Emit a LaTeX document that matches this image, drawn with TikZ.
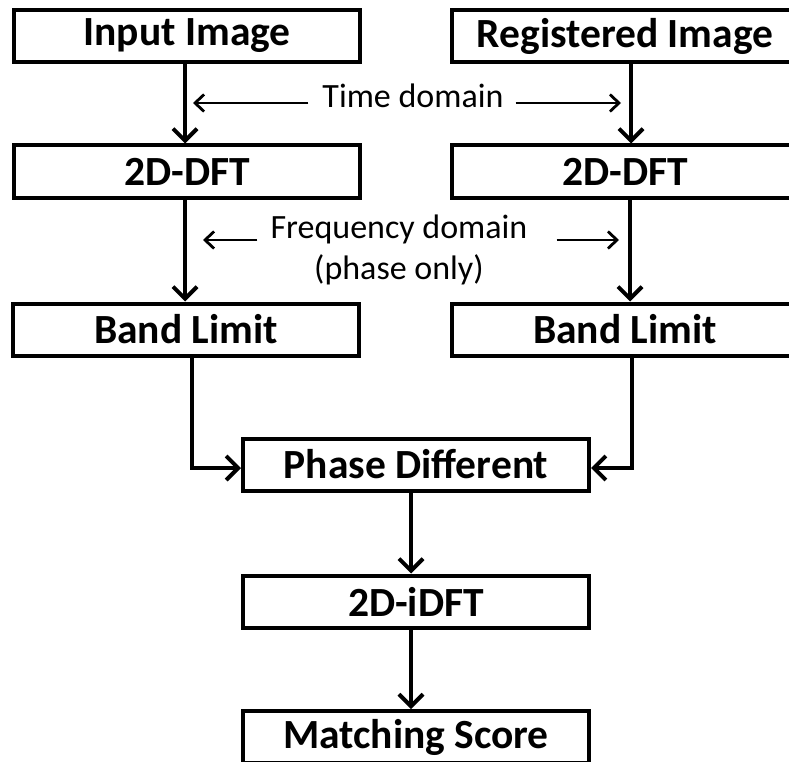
\documentclass[tikz,border=0pt]{standalone}
\usepackage{fontspec}
\setmainfont{Carlito}
\usetikzlibrary{arrows.meta,calc}

\tikzset{
  stage/.style={draw, line width=4pt, rectangle, inner sep=0pt,
    minimum width=346pt, minimum height=52pt,
    font=\fontsize{41.5}{45}\selectfont\bfseries},
  flow/.style={line width=4pt, -{Straight Barb[length=12pt,width=24pt,line width=4pt]}},
  hint/.style={line width=2.8pt, -{Straight Barb[length=9pt,width=17pt,line width=2.8pt]}},
  note/.style={inner sep=0pt, anchor=base, font=\fontsize{34}{37}\selectfont}
}

\begin{document}
\begin{tikzpicture}[x=1pt,y=-1pt]
  \useasboundingbox (0,0) rectangle (789,762);
  \clip (0,0) rectangle (789,762);

  % processing stages
  \node[stage] (inp)   at (187,36)    {Input Image};
  \node[stage] (reg)   at (625,36)    {Registered Image};
  \node[stage] (ldft)  at (187,171.5) {2D-DFT};
  \node[stage] (rdft)  at (625,171.5) {2D-DFT};
  \node[stage] (lband) at (186,329.5) {Band Limit};
  \node[stage] (rband) at (625,329.5) {Band Limit};
  \node[stage] (phase) at (416,464.5) {Phase Different};
  \node[stage] (idft)  at (416,601.5) {2D-iDFT};
  \node[stage] (score) at (416,737)   {Matching Score};

  % domain annotations
  \node[note] (td)   at (413,108) {Time domain};
  \node[note] (fd)   at (399,238) {Frequency domain};
  \node[note] (po)   at (399,279) {(phase only)};

  % main flow
  \draw[flow] ([xshift=-2pt]inp.south) -- ([xshift=-2pt]ldft.north);
  \draw[flow] ([xshift=6pt]reg.south) -- ([xshift=6pt]rdft.north);
  \draw[flow] ([xshift=-2pt]ldft.south) -- ([xshift=-1pt]lband.north);
  \draw[flow] ([xshift=5pt]rdft.south) -- ([xshift=5pt]rband.north);
  \coordinate (lj) at ([xshift=6pt]lband.south |- 0,468);
  \coordinate (rj) at ([xshift=7pt]rband.south |- 0,468);
  \draw[flow] ([xshift=6pt]lband.south) -- (lj) -- (lj -| phase.west);
  \draw[flow] ([xshift=7pt]rband.south) -- (rj) -- (rj -| phase.east);
  \draw[flow] ([xshift=-5pt]phase.south) -- ([xshift=-5pt]idft.north);
  \draw[flow] ([xshift=-5pt]idft.south) -- ([xshift=-5pt]score.north);

  % annotation pointers
  \coordinate (tdL) at (193,103);
  \coordinate (tdR) at (621,103);
  \coordinate (fdL) at (203,240);
  \coordinate (fdR) at (619,240);
  \draw[hint] ([xshift=-14pt]td.west |- tdL) -- (tdL);
  \draw[hint] ([xshift=12pt]td.east |- tdR) -- (tdR);
  \draw[hint] ([xshift=-13pt]fd.west |- fdL) -- (fdL);
  \draw[hint] ([xshift=29pt]fd.east |- fdR) -- (fdR);
\end{tikzpicture}
\end{document}
